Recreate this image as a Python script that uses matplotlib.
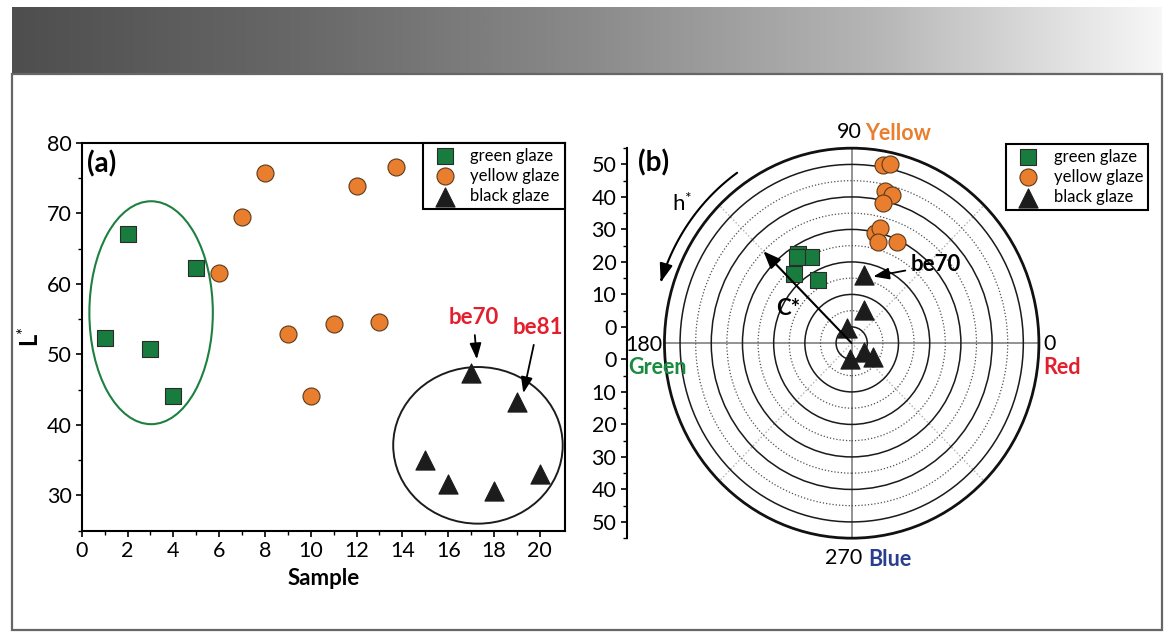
"""Glaze colour figure: L* per sample (a) and C*/h* polar chart (b)."""

import matplotlib
matplotlib.use("Agg")
import matplotlib.pyplot as plt
import numpy as np
from matplotlib.colors import LinearSegmentedColormap
from matplotlib.patches import Circle, Ellipse, FancyArrowPatch, Rectangle
from matplotlib.path import Path

plt.rcParams.update({
    "font.family": ["Lato", "DejaVu Sans"],
    "font.size": 15,
    "mathtext.fontset": "custom",
    "mathtext.rm": "Lato",
    "mathtext.bf": "Lato:bold",
    "mathtext.it": "Lato:italic",
    "axes.linewidth": 1.5,
    "xtick.major.width": 1.2,
    "ytick.major.width": 1.2,
    "xtick.minor.width": 1.0,
    "ytick.minor.width": 1.0,
    "xtick.major.size": 4.5,
    "ytick.major.size": 4.5,
    "xtick.minor.size": 2.8,
    "ytick.minor.size": 2.8,
    "xtick.labelsize": 15.5,
    "ytick.labelsize": 15.5,
})

# ---- panel (a): lightness per sample
green_sample = [1, 2, 3, 4, 5]
green_L = [52.3, 67.1, 50.8, 44.1, 62.2]
yellow_sample = [6, 7, 8, 9, 10, 11, 12, 13, 13.7]
yellow_L = [61.6, 69.4, 75.7, 52.9, 44.1, 54.3, 73.8, 54.6, 76.6]
black_sample = [15, 16, 17, 18, 19, 20]
black_L = [35.0, 31.6, 47.3, 30.6, 43.2, 33.0]

# ---- panel (b): chroma C* and hue angle h* (degrees)
green_C = [27.3, 24.7, 23.1, 17.2, 26.8]
green_h = [122.0, 116.2, 131.0, 118.8, 123.5]
yellow_C = [50.8, 51.4, 42.9, 42.4, 39.3, 29.7, 31.5, 27.4, 29.4]
yellow_h = [79.5, 77.4, 77.1, 74.3, 76.8, 77.6, 75.6, 74.7, 65.2]
black_C = [16.4, 6.0, 0.0, 0.0, 0.0, 2.9]
black_h = [79.4, 69.0, 109.0, 263.0, 325.0, 328.6]

radial_ticks = [0, 10, 20, 30, 40, 50]

GREEN = "#177c3d"
ORANGE = "#e97e2e"
BLACK = "#1c1c1c"
RED = "#e31e2d"
BLUE = "#2b3d8f"
GREEN_TXT = "#1a8a40"

W, H = 1174, 642
C_OFFSET = 5  # empty hole in the middle of the polar chart


def px_box(left, top, right, bottom):
    return [left / W, 1 - bottom / H, (right - left) / W, (bottom - top) / H]


def polar_xy(c, h):
    r = np.asarray(c, dtype=float) + C_OFFSET
    t = np.deg2rad(h)
    return r * np.cos(t), r * np.sin(t)


fig = plt.figure(figsize=(W / 100, H / 100), dpi=100)

# header band + frame
hdr = fig.add_axes(px_box(12, 7, 1162, 74))
grad_cmap = LinearSegmentedColormap.from_list(
    "hdr", ["#4e4e4e", "#686868", "#8a8a8a", "#b5b5b5", "#f7f7f7"])
hdr.imshow(np.linspace(0, 1, 512).reshape(1, -1), cmap=grad_cmap, aspect="auto")
hdr.axis("off")
fig.patches.append(Rectangle((12 / W, 1 - 630 / H), 1150 / W, 556 / H,
                             transform=fig.transFigure, fill=False,
                             ec="#666666", lw=1.6))

mk = dict(zorder=4, linewidths=0.8)

# ─────────────────────────────────────────────
# (a) L* vs sample
# ─────────────────────────────────────────────
ax = fig.add_axes(px_box(81.7, 142.7, 565, 530.7))
ax.scatter(green_sample, green_L, marker="s", s=132, c=GREEN, edgecolors="#2b2b2b",
           label="green glaze", **mk)
ax.scatter(yellow_sample, yellow_L, marker="o", s=150, c=ORANGE, edgecolors="#5b3a1a",
           label="yellow glaze", **mk)
ax.scatter(black_sample, black_L, marker="^", s=190, c=BLACK, edgecolors=BLACK,
           label="black glaze", **mk)

ax.add_patch(Ellipse((3.03, 55.9), 5.39, 31.6, fill=False, ec="#1e8040", lw=1.5))
ax.add_patch(Ellipse((17.3, 37.1), 7.4, 22.2, fill=False, ec=BLACK, lw=1.4))

arrow_kw = dict(arrowstyle="-|>,head_length=0.6,head_width=0.22", color="black",
                lw=1.3, shrinkA=3, shrinkB=0)
ax.annotate("be70", xy=(17.25, 49.3), xytext=(17.1, 55.2), ha="center", va="center",
            color=RED, fontweight="bold", fontsize=16, arrowprops=arrow_kw)
ax.annotate("be81", xy=(19.28, 44.5), xytext=(19.9, 53.8), ha="center", va="center",
            color=RED, fontweight="bold", fontsize=16, arrowprops=arrow_kw)

ax.set_xlim(0, 21.1)
ax.set_ylim(25, 80)
ax.set_xticks(range(0, 21, 2))
ax.set_xticks(range(1, 21, 2), minor=True)
ax.set_yticks(range(30, 81, 10))
ax.set_yticks(range(25, 80, 10), minor=True)
ax.tick_params(axis="both", which="both", direction="out", top=False, right=False)
ax.tick_params(axis="y", pad=2.5)
ax.tick_params(axis="x", pad=3)
ax.set_xlabel("Sample", fontweight="bold", fontsize=16, va="top")
ax.xaxis.set_label_coords(0.5, -0.095)
ax.set_ylabel(r"$\mathbf{L}^{*}$", fontsize=17)
ax.yaxis.set_label_coords(-0.08, 0.5)
ax.text(0.012, 0.945, "(a)", transform=ax.transAxes, ha="left", va="center",
        fontsize=20, fontweight="bold")

leg_kw = dict(fontsize=12, frameon=True, fancybox=False, framealpha=1,
              edgecolor="black", borderpad=0.3, labelspacing=0.25,
              handlelength=2.0, handletextpad=0.55)
leg = ax.legend(loc="upper right", borderaxespad=0, **leg_kw)
leg.get_frame().set_linewidth(1.5)

# ─────────────────────────────────────────────
# (b) C* / h* polar chart drawn on cartesian axes
# ─────────────────────────────────────────────
bx = fig.add_axes(px_box(626.7, 142, 1150, 545))
bx.set_xlim(-72.1, 95.6)
bx.set_ylim(-62.1, 61.9)
r_out = radial_ticks[-1] + 2 * C_OFFSET

for c in radial_ticks:
    bx.add_patch(Circle((0, 0), c + C_OFFSET, fill=False, ec="#1a1a1a", lw=1.1, zorder=2))
for c in radial_ticks[:-1]:
    bx.add_patch(Circle((0, 0), c + 5 + C_OFFSET, fill=False, ec="#505050", lw=0.9,
                        ls=(0, (1, 1.6)), zorder=2))
bx.add_patch(Circle((0, 0), r_out, fill=False, ec="#111111", lw=2.0, zorder=2))

bx.plot([-r_out, r_out], [0, 0], color="#8a8a8a", lw=1.3, zorder=1.5)
bx.plot([0, 0], [-r_out, r_out], color="#8a8a8a", lw=1.3, zorder=1.5)
for ang in (45, 135, 225, 315):
    t = np.deg2rad(ang)
    bx.plot([0, r_out * np.cos(t)], [0, r_out * np.sin(t)], color="#b0b0b0",
            lw=1.0, ls=(0, (1, 1.6)), zorder=1.5)

gx, gy = polar_xy(green_C, green_h)
yx, yy = polar_xy(yellow_C, yellow_h)
kx, ky = polar_xy(black_C, black_h)
bx.scatter(gx, gy, marker="s", s=132, c=GREEN, edgecolors="#2b2b2b",
           label="green glaze", **mk)
bx.scatter(yx, yy, marker="o", s=150, c=ORANGE, edgecolors="#5b3a1a",
           label="yellow glaze", **mk)
bx.scatter(kx, ky, marker="^", s=190, c=BLACK, edgecolors=BLACK,
           label="black glaze", **mk)

# C* arrow and h* arc
bx.annotate("", xy=polar_xy(35, 135), xytext=(0, 0),
            arrowprops=dict(arrowstyle="-|>,head_length=0.7,head_width=0.28",
                            color="black", lw=1.5, shrinkA=0, shrinkB=0), zorder=5)
theta = np.deg2rad(np.linspace(125, 163, 60))
arc = np.column_stack([64 * np.cos(theta), 64 * np.sin(theta)])
bx.add_patch(FancyArrowPatch(path=Path(arc), arrowstyle="-|>,head_length=0.8,head_width=0.28",
                             mutation_scale=14, color="black", lw=1.5, clip_on=False))
bx.text(-54.5, 43.1, r"h$^{*}$", ha="center", va="center", fontsize=16)
bx.text(-20.3, 10.8, "C*", ha="center", va="center", fontsize=16, fontweight="bold")
bx.annotate("be70", xy=(6.9, 20.5), xytext=(27.0, 24.1), ha="center", va="center",
            fontsize=16, fontweight="bold", color="black",
            arrowprops=dict(arrowstyle="-|>,head_length=0.6,head_width=0.22",
                            color="black", lw=1.3, shrinkA=2, shrinkB=0))

# hue labels
bx.text(3.3, 64.9, "90", ha="right", va="center", fontsize=15.5)
bx.text(4.2, 64.5, "Yellow", ha="left", va="center", fontsize=15.5, fontweight="bold",
        color=ORANGE)
bx.text(61.3, -0.3, "0", ha="left", va="center", fontsize=15.5)
bx.text(61.3, -7.4, "Red", ha="left", va="center", fontsize=15.5, fontweight="bold", color=RED)
bx.text(-60.8, -0.6, "180", ha="right", va="center", fontsize=15.5)
bx.text(-71.7, -7.4, "Green", ha="left", va="center", fontsize=15.5, fontweight="bold",
        color=GREEN_TXT)
bx.text(3.3, -66.1, "270", ha="right", va="center", fontsize=15.5)
bx.text(5.2, -66.6, "Blue", ha="left", va="center", fontsize=15.5, fontweight="bold",
        color=BLUE)
bx.text(-68.5, 55.4, "(b)", ha="left", va="center", fontsize=20, fontweight="bold")

# mirrored radial scale on the left spine
tick_pos = [-(c + C_OFFSET) for c in radial_ticks[::-1]] + [c + C_OFFSET for c in radial_ticks]
tick_lab = [str(c) for c in radial_ticks[::-1]] + [str(c) for c in radial_ticks]
bx.set_yticks(tick_pos)
bx.set_yticklabels(tick_lab)
minor = [c + 2 * C_OFFSET for c in radial_ticks]
bx.set_yticks([-m for m in minor] + minor, minor=True)
bx.set_xticks([])
for side in ("top", "right", "bottom"):
    bx.spines[side].set_visible(False)
bx.spines["left"].set_bounds(-r_out, r_out)
bx.tick_params(axis="y", which="both", direction="out", pad=3)

leg_b = bx.legend(loc="upper right", borderaxespad=0.1, **leg_kw)
leg_b.get_frame().set_linewidth(1.5)

fig.savefig("out.png", dpi=100)
